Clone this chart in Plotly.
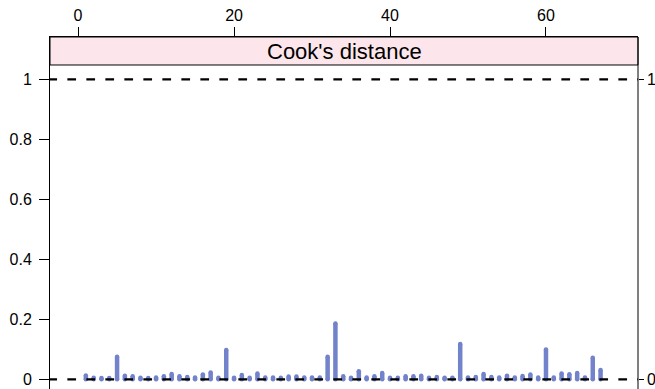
import plotly.graph_objects as go

# Data: Cook's distance per observation
obs_index = list(range(1, 68))
cooks_d = [
    0.013, 0.005, 0.004, 0.004, 0.075, 0.012, 0.010, 0.005, 0.004, 0.006,
    0.010, 0.018, 0.010, 0.008, 0.006, 0.016, 0.023, 0.005, 0.098, 0.005,
    0.014, 0.005, 0.019, 0.006, 0.006, 0.005, 0.009, 0.009, 0.006, 0.006,
    0.006, 0.075, 0.186, 0.010, 0.005, 0.027, 0.006, 0.010, 0.021, 0.005,
    0.005, 0.010, 0.010, 0.012, 0.005, 0.008, 0.005, 0.005, 0.118, 0.006,
    0.008, 0.018, 0.008, 0.006, 0.012, 0.006, 0.011, 0.016, 0.006, 0.099,
    0.006, 0.019, 0.017, 0.021, 0.006, 0.072, 0.031,
]
x_ticks = [0, 20, 40, 60]
y_ticks = [0, 0.2, 0.4, 0.6, 0.8, 1]
y_ticktext = ["0", "0.2", "0.4", "0.6", "0.8", "1"]
ref_lines = [0, 1]
strip_title = "Cook's distance"

BAR_COLOR = "#7282CB"
STRIP_BG = "#FDE6EB"
FONT = "Liberation Sans, Arial, Helvetica, sans-serif"

XR = [-3.6, 71.8]
YR = [-0.0323, 1.141]
PANEL_TOP = 1.0477

xs, ys = [], []
for i, v in zip(obs_index, cooks_d):
    xs += [i, i, None]
    ys += [0, v, None]

fig = go.Figure()
fig.add_trace(go.Scatter(
    x=xs, y=ys, mode="lines+markers",
    line=dict(color=BAR_COLOR, width=4.5),
    marker=dict(color=BAR_COLOR, size=4.5, line=dict(width=0)),
    showlegend=False, hoverinfo="skip", cliponaxis=True,
))
# invisible trace to activate right axis
fig.add_trace(go.Scatter(x=[XR[0], XR[0]], y=ref_lines, yaxis="y2",
                         mode="markers", marker=dict(opacity=0),
                         showlegend=False, hoverinfo="skip"))

shapes = []
# strip
shapes.append(dict(type="rect", xref="paper", yref="y", x0=0, x1=1,
                   y0=PANEL_TOP, y1=YR[1], fillcolor=STRIP_BG,
                   line=dict(color="black", width=1), layer="below"))
# right border
shapes.append(dict(type="line", xref="paper", yref="paper", x0=1, x1=1,
                   y0=0, y1=1, line=dict(color="black", width=1)))
for r in ref_lines:
    shapes.append(dict(type="line", xref="x", yref="y", x0=-3.81, x1=XR[1],
                       y0=r, y1=r,
                       line=dict(color="black", width=2.3, dash="8.7px,10.3px"),
                       layer="above"))

annotations = [dict(text=strip_title, xref="paper", yref="y", x=0.5,
                    y=(PANEL_TOP + YR[1]) / 2, showarrow=False,
                    font=dict(size=22, family=FONT, color="black"),
                    xanchor="center", yanchor="middle")]
# right-side labels for the reference lines
for r in ref_lines:
    annotations.append(dict(text=str(r), xref="paper", yref="y", x=1, y=r,
                            xanchor="left", yanchor="middle", xshift=8,
                            showarrow=False, borderpad=0,
                            font=dict(size=16, family=FONT, color="black")))

fig.update_layout(
    width=655, height=389,
    margin=dict(l=50, r=17, t=37, b=0, autoexpand=False),
    paper_bgcolor="white", plot_bgcolor="white",
    font=dict(family=FONT, size=16, color="black"),
    shapes=shapes,
    annotations=annotations,
    xaxis=dict(range=XR, side="top", tickvals=x_ticks, ticks="outside",
               ticklen=9, tickcolor="black", showgrid=False, zeroline=False,
               showline=True, linecolor="black", linewidth=1, mirror=False,
               tickfont=dict(size=16), automargin=False),
    yaxis=dict(range=YR, tickvals=y_ticks, ticktext=y_ticktext,
               ticks="outside", ticklen=10, tickcolor="black",
               showgrid=False, zeroline=False, showline=True,
               linecolor="black", linewidth=1, tickfont=dict(size=16),
               ticklabelstandoff=4, automargin=False),
    yaxis2=dict(range=YR, overlaying="y", side="right", tickvals=ref_lines,
                showticklabels=False, ticks="outside",
                ticklen=5, tickcolor="black", showgrid=False, zeroline=False,
                showline=False, automargin=False, anchor="x"),
)

fig.write_html(
    "out.html",
    config={"displayModeBar": False},
    post_script="document.body.style.margin='0';document.body.style.overflow='hidden';",
)
